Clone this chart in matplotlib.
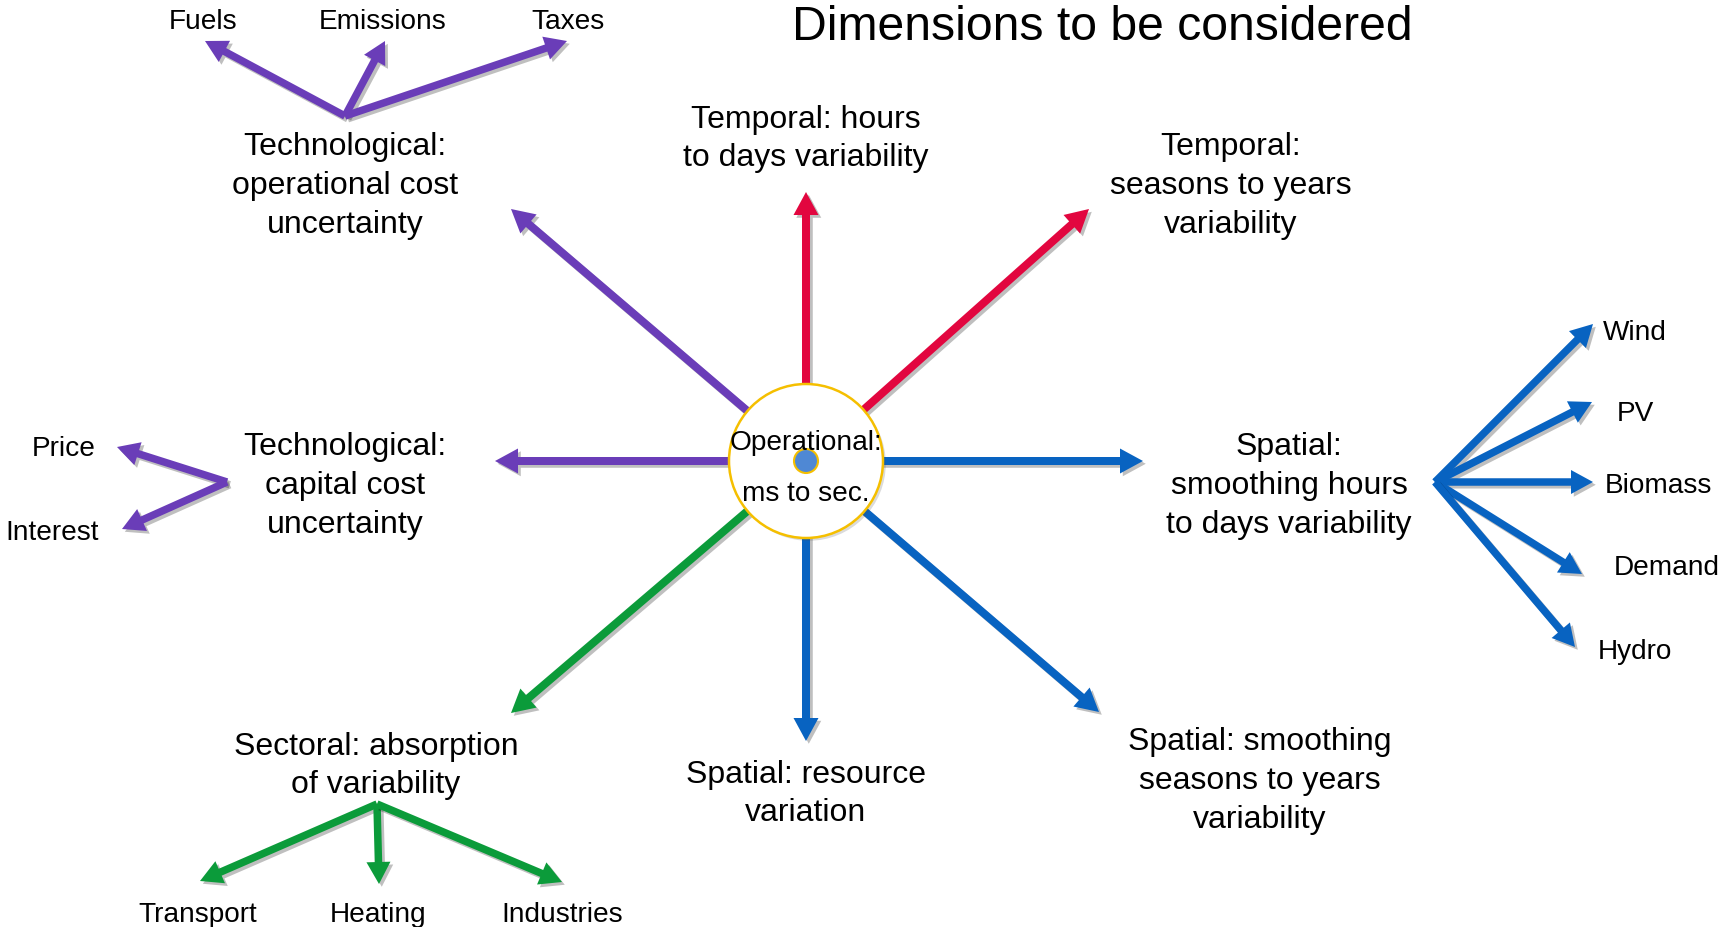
import matplotlib
matplotlib.use("Agg")
import matplotlib.pyplot as plt
from matplotlib.patches import FancyArrow, Circle
import matplotlib.patheffects as pe

plt.rcParams['font.family'] = ['Liberation Sans', 'DejaVu Sans']

# ---------------- content ----------------
title = "Dimensions to be considered"
center_lines = ["Operational:", "ms to sec."]

main_labels = [
    "Temporal: hours\nto days variability",
    "Temporal:\nseasons to years\nvariability",
    "Spatial:\nsmoothing hours\nto days variability",
    "Spatial: smoothing\nseasons to years\nvariability",
    "Spatial: resource\nvariation",
    "Sectoral: absorption\nof variability",
    "Technological:\ncapital cost\nuncertainty",
    "Technological:\noperational cost\nuncertainty",
]
main_colors = ["red", "red", "blue", "blue", "blue", "green", "purple", "purple"]

fuel_labels = ["Fuels", "Emissions", "Taxes"]
capital_labels = ["Price", "Interest"]
sector_labels = ["Transport", "Heating", "Industries"]
spatial_labels = ["Wind", "PV", "Biomass", "Demand", "Hydro"]

palette = {"red": "#E2063F", "blue": "#0863C1", "green": "#0B9B3A", "purple": "#6A3DB8"}

# ---------------- layout (pixel space) ----------------
W, H = 1729, 928
cx, cy = 806, 462
main_tips = [(806, 193), (1089, 210), (1143, 462), (1099, 713),
             (806, 742), (511, 714), (495, 462), (511, 210)]
main_label_pos = [(806, 139), (1231, 186), (1289, 486), (1260, 781),
                  (806, 794), (376, 766), (345, 186 + 300), (345, 186)]

groups = [
    # origin, tips, label positions, labels, colour
    ((345, 117), [(205, 42), (385, 42), (567, 42)],
     [(203, 22), (383, 22), (568, 22)], fuel_labels, "purple"),
    ((227, 483), [(117, 448), (122, 530)],
     [(64, 449), (52, 533)], capital_labels, "purple"),
    ((377, 805), [(200, 882), (379, 885), (562, 883)],
     [(198, 915), (378, 915), (562, 915)], sector_labels, "green"),
    ((1435, 483), [(1593, 325), (1592, 403), (1593, 483), (1582, 575), (1575, 648)],
     [(1635, 333), (1635, 414), (1658, 486), (1667, 568), (1635, 652)], spatial_labels, "blue"),
]

fig = plt.figure(figsize=(W / 100, H / 100), dpi=100)
ax = fig.add_axes([0, 0, 1, 1])
ax.set_xlim(0, W)
ax.set_ylim(H, 0)
ax.set_aspect('equal')
ax.axis('off')

shadow = [pe.SimplePatchShadow(offset=(2, -2), shadow_rgbFace='#000000', alpha=0.25), pe.Normal()]


def arrow(x0, y0, x1, y1, color, width=8, hw=25, hl=23):
    a = FancyArrow(x0, y0, x1 - x0, y1 - y0, width=width, head_width=hw, head_length=hl,
                   length_includes_head=True, color=color, lw=0, zorder=2)
    a.set_path_effects(shadow)
    ax.add_patch(a)


for (tx, ty), col in zip(main_tips, main_colors):
    arrow(cx, cy, tx, ty, palette[col])

for (lx, ly), lab in zip(main_label_pos, main_labels):
    ax.text(lx, ly, lab, fontsize=23, ha='center', va='center', multialignment='center',
            linespacing=1.38, color='black', zorder=5)

for (ox, oy), tips, lpos, labs, col in groups:
    for (tx, ty) in tips:
        arrow(ox, oy, tx, ty, palette[col], width=7.5, hw=24, hl=22)
    for (lx, ly), lab in zip(lpos, labs):
        ax.text(lx, ly, lab, fontsize=20.2, ha='center', va='center', color='black', zorder=5)

circ = Circle((cx, cy), 77, facecolor='white', edgecolor='#F5BF00', lw=1.8, zorder=3)
circ.set_path_effects([pe.SimplePatchShadow(offset=(2, -2), alpha=0.2), pe.Normal()])
ax.add_patch(circ)
ax.add_patch(Circle((cx, cy), 12, facecolor='#4F88D4', edgecolor='#F5BF00', lw=1.5, zorder=4))

ax.text(cx, 443, center_lines[0], fontsize=20.2, ha='center', va='center', zorder=5)
ax.text(cx, 494, center_lines[1], fontsize=20.2, ha='center', va='center', zorder=5)

ax.text(1102, 27, title, fontsize=34.7, ha='center', va='center', zorder=5)

fig.savefig("out.png", dpi=100, facecolor='white')
